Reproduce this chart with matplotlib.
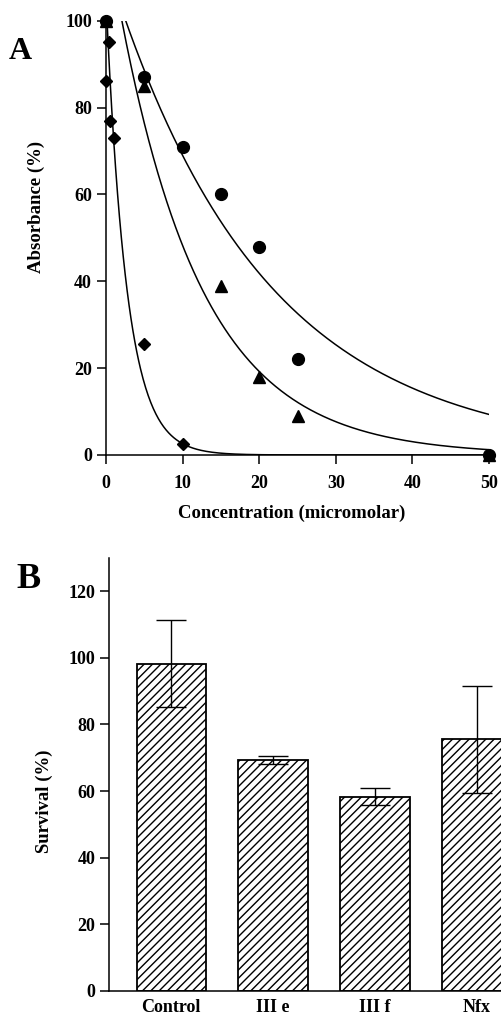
import numpy as np
import matplotlib
matplotlib.use("Agg")
import matplotlib.pyplot as plt

plt.rcParams['font.family'] = ['Liberation Serif', 'DejaVu Serif']
plt.rcParams['font.weight'] = 'bold'
plt.rcParams['hatch.linewidth'] = 1.0

# Panel A: absorbance vs concentration
circle_x = [0, 5, 10, 15, 20, 25, 50]
circle_y = [100, 87, 71, 60, 48, 22, 0]
triangle_x = [0, 5, 15, 20, 25, 50]
triangle_y = [100, 85, 39, 18, 9, 0]
diamond_x = [0, 0.4, 0.5, 1, 5, 10]
diamond_y = [86, 95, 77, 73, 25.5, 2.5]

# exponential decay fits (amplitude, rate)
circle_fit = (113.7, 0.050)
triangle_fit = (121.0, 0.092)
diamond_fit = (105.0, 0.370)

# Panel B: survival
groups = ['Control', 'III e', 'III f', 'Nfx']
survival = [98.3, 69.3, 58.3, 75.5]
survival_err = [13.2, 1.3, 2.6, 16.1]

fig = plt.figure(figsize=(5.01, 10.34), dpi=100)

ax1 = fig.add_axes([0.2116, 0.5600, 0.7645, 0.4200])
xs = np.linspace(0, 50, 600)
for amp, k in (circle_fit, triangle_fit, diamond_fit):
    ax1.plot(xs, amp * np.exp(-k * xs), color='black', lw=1.1)
ax1.plot(circle_x, circle_y, 'o', color='black', ms=8.5, clip_on=False, zorder=3)
ax1.plot(triangle_x, triangle_y, '^', color='black', ms=8, clip_on=False, zorder=3)
ax1.plot(diamond_x, diamond_y, 'D', color='black', ms=6.5, clip_on=False, zorder=3)
ax1.set_xlim(0, 50)
ax1.set_ylim(0, 100)
ax1.set_xticks([0, 10, 20, 30, 40, 50])
ax1.set_yticks([0, 20, 40, 60, 80, 100])
ax1.set_xlabel('Concentration (micromolar)', fontsize=13.5, fontweight='bold')
ax1.set_ylabel('Absorbance (%)', fontsize=13.5, fontweight='bold')
ax1.xaxis.set_label_coords(0.486, -0.115)
ax1.yaxis.set_label_coords(-0.159, 0.571)
ax1.text(-0.255, 0.93, 'A', transform=ax1.transAxes, fontsize=23, fontweight='bold',
         ha='left', va='center')

ax2 = fig.add_axes([0.2176, 0.0419, 0.7824, 0.4184])
pos = np.arange(len(groups))
ax2.bar(pos, survival, width=0.68, color='white', edgecolor='black', hatch='////',
        linewidth=1.3, zorder=2)
ax2.errorbar(pos, survival, yerr=survival_err, fmt='none', ecolor='black',
             elinewidth=1.0, capsize=11, capthick=1.0, zorder=3)
ax2.set_xlim(-0.61, 3.235)
ax2.set_ylim(0, 130)
ax2.set_yticks([0, 20, 40, 60, 80, 100, 120])
ax2.set_xticks(pos)
ax2.set_xticklabels(groups)
ax2.set_ylabel('Survival (%)', fontsize=13.5, fontweight='bold')
ax2.yaxis.set_label_coords(-0.1425, 0.438)
ax2.text(-0.235, 0.95, 'B', transform=ax2.transAxes, fontsize=26, fontweight='bold',
         ha='left', va='center')

for ax in (ax1, ax2):
    ax.spines['top'].set_visible(False)
    ax.spines['right'].set_visible(False)
    ax.spines['left'].set_linewidth(1.1)
    ax.spines['bottom'].set_linewidth(1.1)
    ax.tick_params(labelsize=13, width=1.1, length=6.5, direction='out')
    for lab in ax.get_xticklabels() + ax.get_yticklabels():
        lab.set_fontweight('bold')
ax1.tick_params(axis='x', pad=8)
ax2.tick_params(axis='x', length=0, pad=6)

fig.savefig('out.png', dpi=100)
